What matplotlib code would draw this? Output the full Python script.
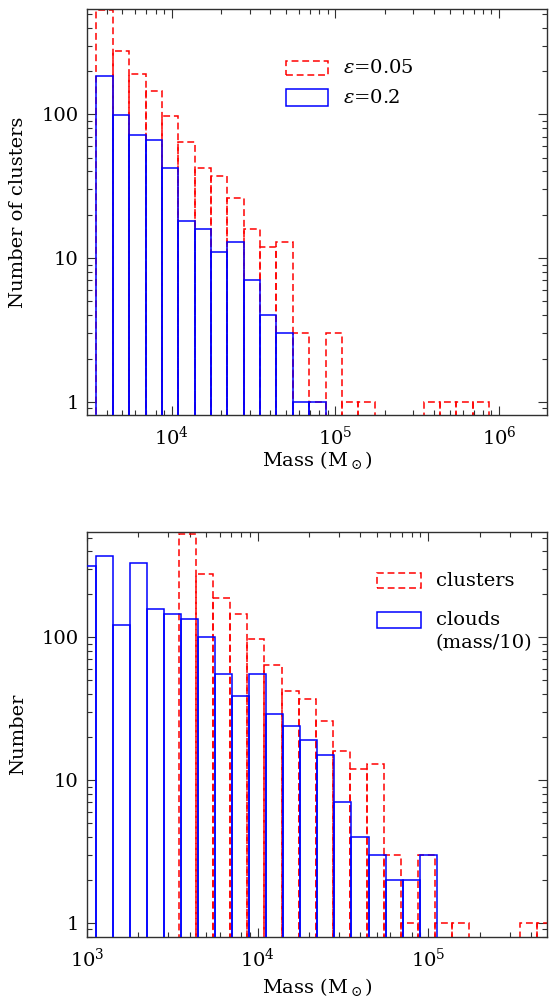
import numpy as np
import matplotlib
matplotlib.use("Agg")
import matplotlib.pyplot as plt
from matplotlib.patches import Rectangle
from matplotlib.ticker import FixedLocator, FuncFormatter, NullFormatter

plt.rcParams["font.family"] = ["DejaVu Serif"]
plt.rcParams["mathtext.fontset"] = "dejavuserif"
plt.rcParams["font.size"] = 14

# histograms in 0.1 dex bins; start values are log10 of the first left edge
bin_dex = 0.1
cluster_log_start = 3.54
cloud_log_start = 2.95

clusters_eps005 = [530, 277, 190, 145, 98, 64, 42, 37, 26, 16, 12, 13,
                   3, 1, 3, 1, 1, 0, 0, 0, 1, 1, 1, 1]
clusters_eps02 = [186, 99, 72, 66, 42, 18, 16, 11, 13, 7, 4, 3, 1, 1]
clouds_div10 = [316, 373, 123, 330, 159, 146, 134, 101, 55, 39, 55, 29,
                24, 19, 15, 7, 4, 3, 2, 2, 3]

RED = "#ff0000"
BLUE = "#0000ff"
AXC = "#303030"
BASE = 0.5  # bars start below the visible range


def draw_bars(ax, log_start, counts, **style):
    counts = np.asarray(counts, dtype=float)
    left = 10 ** (log_start + bin_dex * np.arange(len(counts)))
    right = left * 10 ** bin_dex
    keep = counts > 0
    ax.bar(left[keep], counts[keep] - BASE, width=(right - left)[keep],
           bottom=BASE, align="edge", fill=False, **style)


def style_axes(ax, xlim, ylim):
    ax.set_xscale("log")
    ax.set_yscale("log")
    ax.set_xlim(*xlim)
    ax.set_ylim(*ylim)
    ax.yaxis.set_major_locator(FixedLocator([1, 10, 100]))
    ax.yaxis.set_major_formatter(FuncFormatter(lambda v, p: f"{v:g}"))
    ax.yaxis.set_minor_formatter(NullFormatter())
    ax.xaxis.set_minor_formatter(NullFormatter())
    ax.tick_params(which="both", direction="in", top=True, right=True,
                   width=0.8, color=AXC, labelsize=14)
    ax.tick_params(which="major", length=6.5)
    ax.tick_params(which="minor", length=3.5)
    ax.tick_params(axis="x", which="major", pad=8)
    ax.tick_params(axis="y", which="major", pad=6)
    for sp in ax.spines.values():
        sp.set_color(AXC)
        sp.set_linewidth(1.0)


def legend_box(ax, x0, x1, y0, y1, **style):
    ax.add_patch(Rectangle((x0, y0), x1 - x0, y1 - y0, transform=ax.transAxes,
                           fill=False, clip_on=False, **style))


red_style = dict(edgecolor=RED, linewidth=1.1, linestyle=(0, (4.5, 2.5)))
blue_style = dict(edgecolor=BLUE, linewidth=1.1)

fig = plt.figure(figsize=(5.49, 9.99), dpi=100)
ax1 = fig.add_axes([0.1585, 0.5846, 0.838, 0.4064])
ax2 = fig.add_axes([0.1585, 0.0624, 0.838, 0.4054])

# top: cluster mass functions for two efficiencies
draw_bars(ax1, cluster_log_start, clusters_eps005, zorder=2, **red_style)
draw_bars(ax1, cluster_log_start, clusters_eps02, zorder=3, **blue_style)
style_axes(ax1, (3035, 1.97e6), (0.81, 540))
ax1.set_xlabel(r"Mass (M$_\odot$)")
ax1.set_ylabel("Number of clusters")
ax1.xaxis.set_label_coords(0.5, -0.085)
ax1.yaxis.set_label_coords(-0.13, 0.5)

legend_box(ax1, 0.4326, 0.524, 0.8374, 0.872, **red_style)
legend_box(ax1, 0.4326, 0.524, 0.761, 0.802, **blue_style)
ax1.text(0.556, 0.855, r"$\epsilon$=0.05", transform=ax1.transAxes,
         va="center", fontsize=14)
ax1.text(0.556, 0.781, r"$\epsilon$=0.2", transform=ax1.transAxes,
         va="center", fontsize=14)

# bottom: clusters against clouds scaled down by 10
draw_bars(ax2, cluster_log_start, clusters_eps005, zorder=2, **red_style)
draw_bars(ax2, cloud_log_start, clouds_div10, zorder=3, **blue_style)
style_axes(ax2, (1e3, 4.97e5), (0.80, 550))
ax2.set_xlabel(r"Mass (M$_\odot$)")
ax2.set_ylabel("Number")
ax2.xaxis.set_label_coords(0.5, -0.097)
ax2.yaxis.set_label_coords(-0.13, 0.5)

legend_box(ax2, 0.63, 0.726, 0.860, 0.899, **red_style)
legend_box(ax2, 0.63, 0.726, 0.7615, 0.8025, **blue_style)
ax2.text(0.758, 0.877, "clusters", transform=ax2.transAxes, va="center",
         fontsize=14)
ax2.text(0.758, 0.782, "clouds", transform=ax2.transAxes, va="center",
         fontsize=14)
ax2.text(0.758, 0.724, "(mass/10)", transform=ax2.transAxes, va="center",
         fontsize=14, clip_on=False)

fig.savefig("out.png", dpi=100)
